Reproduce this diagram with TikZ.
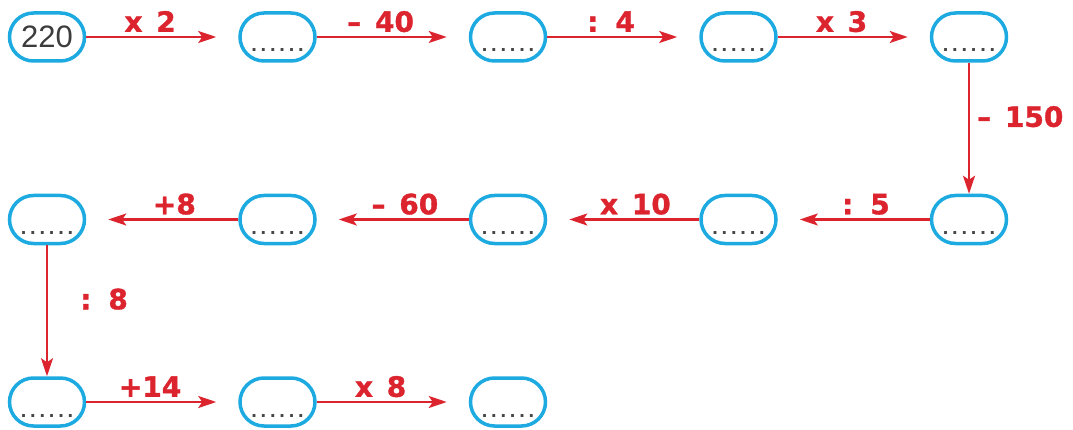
\documentclass[tikz,border=0pt]{standalone}
\usepackage{fontspec}
\newfontfamily\oprfont[FakeBold=1.2]{DejaVu Sans Bold}
\newfontfamily\numfont{Liberation Sans}
\usetikzlibrary{positioning,arrows.meta}

\definecolor{boxcyan}{RGB}{28,170,225}
\definecolor{oprred}{RGB}{220,36,46}
\definecolor{dotgray}{RGB}{70,70,70}
\definecolor{numgray}{RGB}{60,60,60}

\newcommand{\blank}{\textcolor{dotgray}{\numfont\bfseries\fontsize{20}{20}\selectfont
  .\hspace{3.8pt}.\hspace{3.8pt}.\hspace{3.8pt}.\hspace{3.8pt}.\hspace{3.8pt}.}}

\begin{document}
\begin{tikzpicture}[
  x=1pt, y=1pt,
  node distance=131pt and 152pt,
  box/.style={draw=boxcyan, line width=3.5pt, rounded corners=24pt,
              minimum width=75pt, minimum height=48pt, inner xsep=0pt},
  slot/.style={box, text height=36pt, text depth=6pt, inner ysep=3pt},
  startbox/.style={box, text=numgray, font=\numfont\fontsize{31}{31}\selectfont, inner ysep=0pt},
  rel/.style={-{Stealth[length=18pt, width=12pt, inset=4pt]}, draw=oprred, line width=2.4pt},
  hop/.style={rel, shorten >=22pt},
  lbl/.style={text=oprred, font=\oprfont\fontsize{28}{28}\selectfont,
              inner sep=4pt, text depth=0pt}
]
\useasboundingbox (0,0) rectangle (1073,429);

% first row
\node[startbox] (start) at (47,392) {220};
\node[slot, right=of start] (b1) {\blank};
\node[slot, right=of b1]    (b2) {\blank};
\node[slot, right=of b2]    (b3) {\blank};
\node[slot, right=of b3]    (b4) {\blank};
% second row, right to left
\node[slot, below=of b4]    (b5) {\blank};
\node[slot, left=of b5]     (b6) {\blank};
\node[slot, left=of b6]     (b7) {\blank};
\node[slot, left=of b7]     (b8) {\blank};
\node[slot, left=of b8]     (b9) {\blank};
% third row
\node[slot, below=of b9]    (b10) {\blank};
\node[slot, right=of b10]   (b11) {\blank};
\node[slot, right=of b11]   (b12) {\blank};

\draw[hop] (start) -- (b1) node[lbl, above, pos=0.42] {x\hspace{4pt} 2};
\draw[hop] (b1) -- (b2)    node[lbl, above, pos=0.42] {–\hspace{4pt} 40};
\draw[hop] (b2) -- (b3)    node[lbl, above, pos=0.42] {:\hspace{4pt} 4};
\draw[hop] (b3) -- (b4)    node[lbl, above, pos=0.42] {x\hspace{4pt} 3};
\draw[rel] (b4) -- (b5)    node[lbl, right=3pt, pos=0.41] {–\hspace{4pt} 150};
\draw[hop] (b5) -- (b6)    node[lbl, above, pos=0.42] {:\hspace{4pt} 5};
\draw[hop] (b6) -- (b7)    node[lbl, above, pos=0.42] {x\hspace{4pt} 10};
\draw[hop] (b7) -- (b8)    node[lbl, above, pos=0.42] {–\hspace{4pt} 60};
\draw[hop] (b8) -- (b9)    node[lbl, above, pos=0.42] {+8};
\draw[rel] (b9) -- (b10)   node[lbl, right=28pt, pos=0.41] {:\hspace{4pt} 8};
\draw[hop] (b10) -- (b11)  node[lbl, above, pos=0.42] {+14};
\draw[hop] (b11) -- (b12)  node[lbl, above, pos=0.42] {x\hspace{4pt} 8};
\end{tikzpicture}
\end{document}
